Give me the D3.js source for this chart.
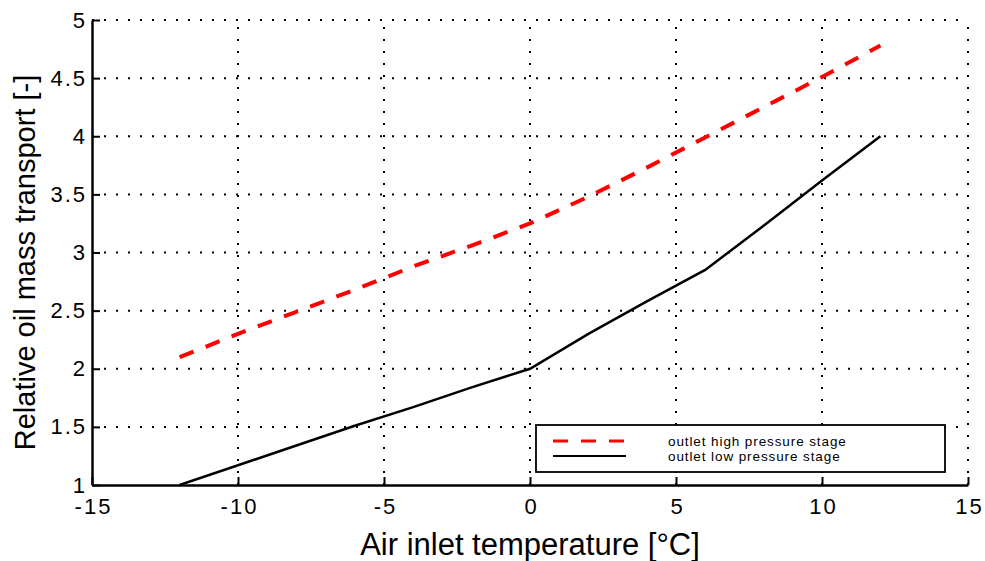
<!DOCTYPE html>
<html>
<head>
<meta charset="utf-8">
<script src="https://cdn.jsdelivr.net/npm/d3@7"></script>
<style>
  body { margin: 0; background: #fff; }
  text { font-family: "Liberation Sans", Arial, sans-serif; }
</style>
</head>
<body>
<script>
// data
const tempHigh = [-12, -10, -8, -6, -4, -2, 0, 2, 4, 6, 8, 10, 12];
const oilHigh = [2.10, 2.30, 2.49, 2.68, 2.88, 3.06, 3.25, 3.48, 3.73, 3.99, 4.25, 4.51, 4.78];
const tempLow = [-12, -10, -8, -6, -4, -2, 0, 2, 4, 6, 8, 10, 12];
const oilLow = [1.0, 1.17, 1.34, 1.51, 1.67, 1.84, 2.0, 2.3, 2.58, 2.85, 3.23, 3.62, 4.0];
const xTicks = [-15, -10, -5, 0, 5, 10, 15];
const yTicks = [1, 1.5, 2, 2.5, 3, 3.5, 4, 4.5, 5];
const legendLabels = ["outlet high pressure stage", "outlet low pressure stage"];

const width = 985, height = 561;
const margin = {left: 92, right: 17, top: 20, bottom: 76};

const svg = d3.select("body").append("svg")
    .attr("width", width)
    .attr("height", height);

const x = d3.scaleLinear().domain([-15, 15]).range([margin.left, width - margin.right]);
const y = d3.scaleLinear().domain([1, 5]).range([height - margin.bottom, margin.top]);

// dotted grid
const grid = svg.append("g").attr("stroke", "#000").attr("stroke-width", 2)
    .attr("stroke-dasharray", "2,10");
grid.selectAll(".gx").data(xTicks.slice(1)).join("line")
    .attr("x1", d => x(d)).attr("x2", d => x(d))
    .attr("y1", y(1)).attr("y2", y(5));
grid.selectAll(".gy").data(yTicks.slice(1)).join("line")
    .attr("x1", x(-15)).attr("x2", x(15))
    .attr("y1", d => y(d)).attr("y2", d => y(d));

// series
const line = d3.line().x(d => x(d[0])).y(d => y(d[1]));
svg.append("clipPath").attr("id", "clip").append("rect")
    .attr("x", x(-15)).attr("y", y(5)).attr("width", x(15) - x(-15)).attr("height", y(1) - y(5));

svg.append("path")
    .attr("clip-path", "url(#clip)")
    .attr("d", line(d3.zip(tempLow, oilLow)))
    .attr("fill", "none").attr("stroke", "#000").attr("stroke-width", 2.5);

svg.append("path")
    .attr("clip-path", "url(#clip)")
    .attr("d", line(d3.zip(tempHigh, oilHigh)))
    .attr("fill", "none").attr("stroke", "#ff0000").attr("stroke-width", 4)
    .attr("stroke-dasharray", "15,13");

// axes (ticks point inward), hyphen minus like the original
const fmt = d => String(d);
const xAxis = svg.append("g").attr("transform", `translate(0,${y(1)})`)
    .call(d3.axisBottom(x).tickValues(xTicks).tickFormat(fmt).tickSizeInner(-8).tickSizeOuter(0).tickPadding(13));
const yAxis = svg.append("g").attr("transform", `translate(${x(-15)},0)`)
    .call(d3.axisLeft(y).tickValues(yTicks).tickFormat(fmt).tickSizeInner(-8).tickSizeOuter(0).tickPadding(5));

[xAxis, yAxis].forEach(a => {
  a.attr("font-size", 22).attr("font-family", "'Liberation Sans', Arial, sans-serif");
  a.select(".domain").attr("stroke", "#000").attr("stroke-width", 2.5);
  a.selectAll(".tick line").attr("stroke", "#000").attr("stroke-width", 2);
  a.selectAll(".tick text").attr("fill", "#000").style("letter-spacing", "2px");
});
xAxis.selectAll(".tick text").attr("dy", "0.71em").attr("dx", 1);

// axis titles
svg.append("text")
    .attr("x", (x(-15) + x(15)) / 2).attr("y", 555)
    .attr("text-anchor", "middle").attr("font-size", 31)
    .text("Air inlet temperature [°C]");
svg.append("text")
    .attr("transform", `translate(35,${(y(1) + y(5)) / 2 + 10}) rotate(-90)`)
    .attr("text-anchor", "middle").attr("font-size", 29)
    .text("Relative oil mass transport [-]");

// legend
const lg = svg.append("g");
lg.append("rect")
    .attr("x", 536).attr("y", 425).attr("width", 409).attr("height", 47)
    .attr("fill", "#fff").attr("stroke", "#000").attr("stroke-width", 1.8);
const styles = [
  {stroke: "#ff0000", dash: "15,13", w: 3},
  {stroke: "#000", dash: null, w: 2}
];
legendLabels.forEach((lab, i) => {
  const ly = 441 + i * 15;
  lg.append("line")
      .attr("x1", 553).attr("x2", 626).attr("y1", ly).attr("y2", ly)
      .attr("stroke", styles[i].stroke).attr("stroke-width", styles[i].w)
      .attr("stroke-dasharray", styles[i].dash);
  lg.append("text")
      .attr("x", 668).attr("y", ly + 5)
      .attr("font-size", 13.5).style("letter-spacing", "0.9px")
      .text(lab);
});
</script>
</body>
</html>
